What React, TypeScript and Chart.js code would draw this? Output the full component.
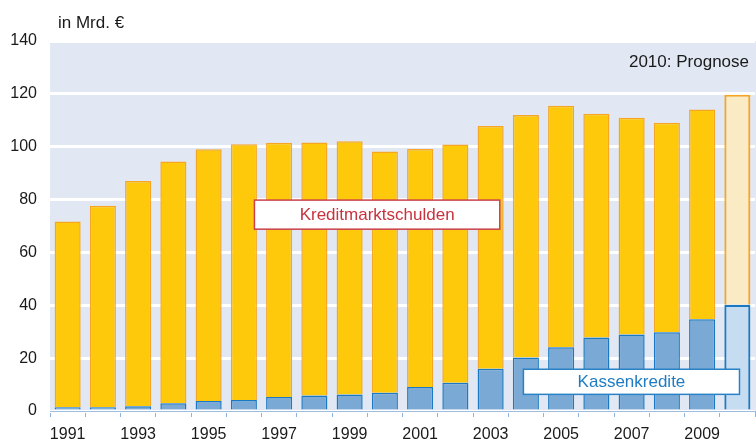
import React, { useEffect, useRef } from "react";
import { Chart, registerables } from "chart.js";

Chart.register(...registerables);

const years = [
  "1991", "1992", "1993", "1994", "1995", "1996", "1997", "1998", "1999", "2000",
  "2001", "2002", "2003", "2004", "2005", "2006", "2007", "2008", "2009", "2010",
];
const tickLabels = [
  "1991", "", "1993", "", "1995", "", "1997", "", "1999", "",
  "2001", "", "2003", "", "2005", "", "2007", "", "2009", "",
];
// Kassenkredite (blue, bottom)
const kassenkredite = [
  1.4, 1.4, 1.8, 2.9, 3.8, 4.2, 5.3, 5.9, 6.2, 6.9,
  9.1, 10.7, 16.0, 20.2, 24.1, 27.8, 28.9, 29.8, 34.7, 40.2,
];
// Totals (top of stacked bars)
const totals = [
  71.7, 77.7, 87.0, 94.4, 99.0, 100.9, 101.5, 101.6, 102.1, 98.2,
  99.1, 100.8, 107.8, 112.0, 115.5, 112.5, 111.0, 109.1, 114.1, 119.7,
];
const kreditmarktschulden = totals.map((t, i) => +(t - kassenkredite[i]).toFixed(1));
const yTicks = [0, 20, 40, 60, 80, 100, 120, 140];
const forecastIndex = 19;

const FONT = '"Liberation Sans", Arial, sans-serif';

export default function App() {
  const ref = useRef<HTMLCanvasElement | null>(null);

  useEffect(() => {
    if (!ref.current) return;
    const n = years.length;
    const yellowFill = years.map((_, i) => (i === forecastIndex ? "#FBEBC5" : "#FEC80B"));
    const blueFill = years.map((_, i) => (i === forecastIndex ? "#C6DDF1" : "#79A9D4"));
    const yellowBorderW = years.map((_, i) => (i === forecastIndex ? 2.2 : 1.5));
    const blueBorderW = years.map((_, i) => (i === forecastIndex ? 2.2 : 1.5));

    const bgPlugin = {
      id: "bg",
      beforeDraw(chart: any) {
        const { ctx, chartArea } = chart;
        ctx.save();
        ctx.fillStyle = "#E1E8F3";
        ctx.fillRect(chartArea.left, chartArea.top, chart.width - chartArea.left, chartArea.bottom - chartArea.top);
        ctx.restore();
      },
    };

    const annoPlugin = {
      id: "anno",
      afterDraw(chart: any) {
        const { ctx } = chart;
        const x = chart.scales.x;
        const y = chart.scales.y;
        const cw = x.width / n;
        const px = (f: number) => x.left + f * cw;

        ctx.save();
        // title
        ctx.font = `17px ${FONT}`;
        ctx.fillStyle = "#1a1a1a";
        ctx.textAlign = "left";
        ctx.textBaseline = "middle";
        ctx.fillText("in Mrd. €", 58, 23);

        ctx.textAlign = "right";
        ctx.fillText("2010: Prognose", 749, 62);

        // Kreditmarktschulden box
        {
          const l = px(5.8), r = px(12.76);
          const t = y.getPixelForValue(79.8), b = y.getPixelForValue(68.8);
          ctx.fillStyle = "#FFFFFF";
          ctx.fillRect(l, t, r - l, b - t);
          ctx.strokeStyle = "#C9414C";
          ctx.lineWidth = 1.5;
          ctx.strokeRect(l, t, r - l, b - t);
          ctx.fillStyle = "#C8323E";
          ctx.textAlign = "center";
          ctx.fillText("Kreditmarktschulden", (l + r) / 2, (t + b) / 2 + 0.5);
        }
        // Kassenkredite box
        {
          const l = px(13.43), r = px(19.56);
          const t = y.getPixelForValue(15.8), b = y.getPixelForValue(6.3);
          ctx.fillStyle = "#FFFFFF";
          ctx.fillRect(l, t, r - l, b - t);
          ctx.strokeStyle = "#2A82C6";
          ctx.lineWidth = 1.5;
          ctx.strokeRect(l, t, r - l, b - t);
          ctx.fillStyle = "#1F7CC2";
          ctx.textAlign = "center";
          ctx.fillText("Kassenkredite", (l + r) / 2, (t + b) / 2 + 0.5);
        }
        ctx.restore();
      },
    };

    const chart = new Chart(ref.current, {
      type: "bar",
      data: {
        labels: years,
        datasets: [
          {
            label: "Kassenkredite",
            data: kassenkredite,
            backgroundColor: blueFill,
            borderColor: "#1B78C2",
            borderWidth: blueBorderW,
            barPercentage: 0.74,
            categoryPercentage: 1,
          },
          {
            label: "Kreditmarktschulden",
            data: kreditmarktschulden,
            backgroundColor: yellowFill,
            borderColor: "#F6A623",
            borderWidth: yellowBorderW,
            barPercentage: 0.74,
            categoryPercentage: 1,
          },
        ],
      },
      options: {
        animation: false,
        responsive: true,
        maintainAspectRatio: false,
        layout: { padding: { top: 41, right: 1, left: 0, bottom: 0 } },
        plugins: {
          legend: { display: false },
          tooltip: { enabled: false },
        },
        scales: {
          x: {
            stacked: true,
            afterFit(scale: any) {
              scale.height = 32;
            },
            grid: {
              offset: true,
              drawOnChartArea: false,
              drawTicks: true,
              tickLength: 6,
              color: "#8FB3DC",
              lineWidth: 1,
            },
            border: { display: true, color: "#9DBDE0", width: 1 },
            ticks: {
              autoSkip: false,
              maxRotation: 0,
              padding: 8,
              color: "#1a1a1a",
              font: { family: FONT, size: 16 },
              callback: (_v: any, i: number) => tickLabels[i],
            },
          },
          y: {
            stacked: true,
            min: 0,
            max: 140,
            afterFit(scale: any) {
              scale.width = 50;
            },
            afterBuildTicks(scale: any) {
              scale.ticks = yTicks.map((v) => ({ value: v }));
            },
            grid: {
              color: "#FFFFFF",
              lineWidth: 3,
              drawTicks: false,
            },
            border: { display: false },
            ticks: {
              padding: 13,
              color: "#1a1a1a",
              font: { family: FONT, size: 16 },
            },
          },
        },
      },
      plugins: [bgPlugin, annoPlugin],
    } as any);

    return () => chart.destroy();
  }, []);

  return (
    <div style={{ position: "fixed", left: 0, top: 0, width: 756, height: 443, background: "#fff" }}>
      <canvas ref={ref} />
    </div>
  );
}
